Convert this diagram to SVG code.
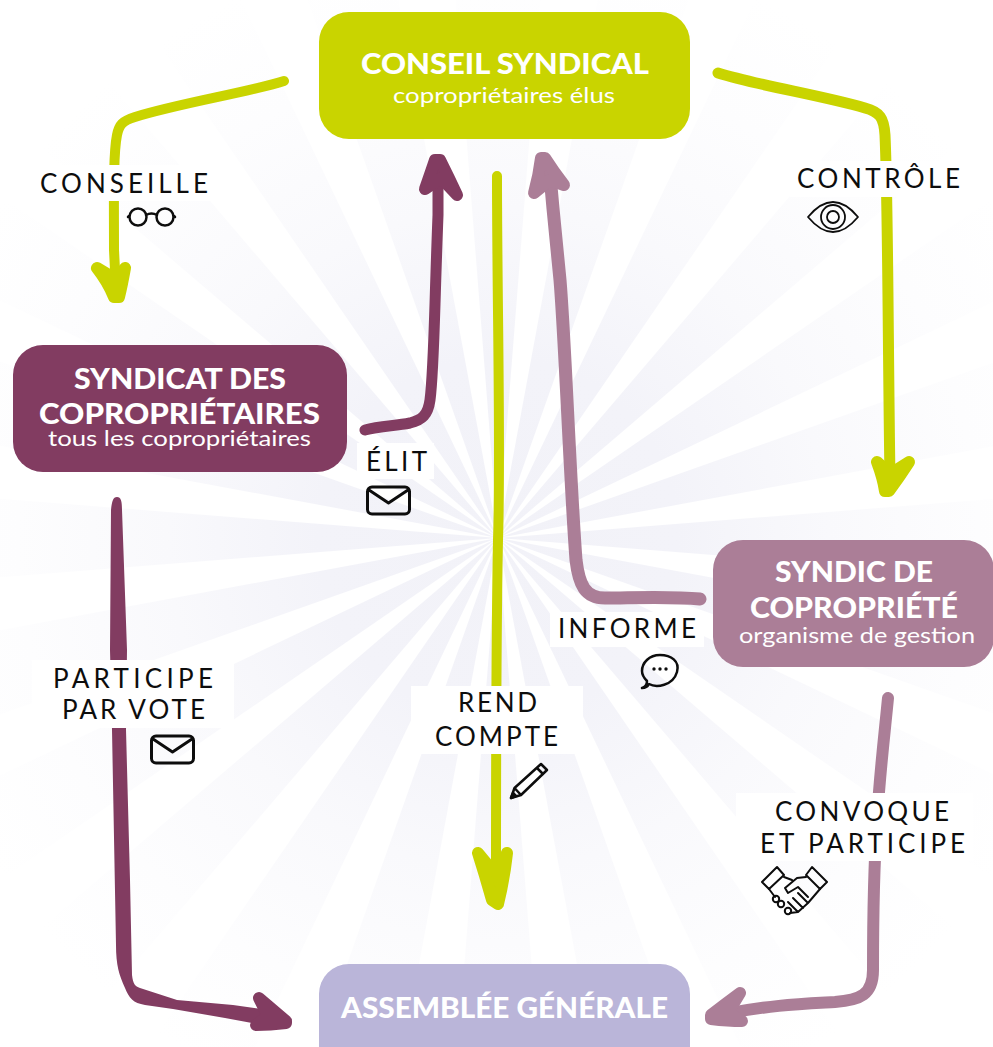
<svg xmlns="http://www.w3.org/2000/svg" xmlns:xlink="http://www.w3.org/1999/xlink" width="993" height="1047" viewBox="0 0 993 1047">
<style>
.ray{fill:url(#fade)}
.patch{fill:#fff}
.lbl{font-family:"Lato","Liberation Sans",sans-serif;font-size:26px;font-weight:400;fill:#0d0d0d}
.ttl{font-family:"Lato","Liberation Sans",sans-serif;font-size:29px;font-weight:900;fill:#fff}
.sub{font-family:"Lato","Liberation Sans",sans-serif;font-size:22px;font-weight:400;fill:#fff}
.lime{stroke:#c9d400;fill:none;stroke-linecap:round;stroke-linejoin:round}
.plum{stroke:#823c61;fill:none;stroke-linecap:round;stroke-linejoin:round}
.mauve{stroke:#ab7e97;fill:none;stroke-linecap:round;stroke-linejoin:round}
.limeh{fill:#c9d400;stroke:#c9d400;stroke-width:12;stroke-linejoin:round}
.plumh{fill:#823c61;stroke:#823c61;stroke-width:12;stroke-linejoin:round}
.mauveh{fill:#ab7e97;stroke:#ab7e97;stroke-width:12;stroke-linejoin:round}
.ico{fill:none;stroke:#0d0d0d;stroke-linecap:round;stroke-linejoin:round}
</style>
<defs>
<radialGradient id="fade" gradientUnits="userSpaceOnUse" cx="0" cy="0" r="600">
<stop offset="0" stop-color="#f2f2f8"/>
<stop offset="0.3" stop-color="#f3f3f9"/>
<stop offset="0.55" stop-color="#f9f9fc"/>
<stop offset="0.8" stop-color="#fdfdfe"/>
<stop offset="1" stop-color="#ffffff"/>
</radialGradient>
<polygon id="ray" class="ray" points="0,0 800,-63 800,63"/>
</defs>
<rect width="993" height="1047" fill="#fff"/>
<g id="sunburst" transform="translate(498 538)">
<use href="#ray"/><use href="#ray" transform="rotate(15)"/><use href="#ray" transform="rotate(30)"/><use href="#ray" transform="rotate(45)"/>
<use href="#ray" transform="rotate(60)"/><use href="#ray" transform="rotate(75)"/><use href="#ray" transform="rotate(90)"/><use href="#ray" transform="rotate(105)"/>
<use href="#ray" transform="rotate(120)"/><use href="#ray" transform="rotate(135)"/><use href="#ray" transform="rotate(150)"/><use href="#ray" transform="rotate(165)"/>
<use href="#ray" transform="rotate(180)"/><use href="#ray" transform="rotate(195)"/><use href="#ray" transform="rotate(210)"/><use href="#ray" transform="rotate(225)"/>
<use href="#ray" transform="rotate(240)"/><use href="#ray" transform="rotate(255)"/><use href="#ray" transform="rotate(270)"/><use href="#ray" transform="rotate(285)"/>
<use href="#ray" transform="rotate(300)"/><use href="#ray" transform="rotate(315)"/><use href="#ray" transform="rotate(330)"/><use href="#ray" transform="rotate(345)"/>
</g>
<g id="connectors">
<path class="lime" stroke-width="10" d="M284 81C250 92 180 103 135 117C122 121 119 125 117 135C113 155 114 200 114 250L116 290"/>
<path class="limeh" d="M97 268Q108 282 114 297L119 297Q122 285 125 268L117 280Z"/>
<path class="lime" stroke-width="11" d="M718 73C760 86 820 95 865 108C880 112 884 118 885 135C888 200 888 350 890 480"/>
<path class="limeh" d="M877 462Q883 478 885 491L889 491Q900 476 909 462L890 474Z"/>
<path class="plum" stroke-width="11" d="M365 430C380 426 395 426 410 423C422 420 428 415 430 400C434 370 434 320 438 215L438 175"/>
<path class="plumh" d="M425 189Q431 172 435 160L440 160Q449 178 457 195L441 178Z"/>
<path class="mauve" stroke-width="13" d="M700 599C670 596 630 598 605 598C585 598 579 585 576 560C570 480 565 340 560 280C556 240 553 210 550 175"/>
<path class="mauveh" d="M534 193Q539 175 541 158L545 158Q554 172 564 185L550 180Z"/>
<path class="lime" stroke-width="10" d="M497 176C497 300 501 450 498 540C496 640 496 760 496 880"/>
<path class="limeh" d="M478 853Q485 875 492 900L498 904Q504 880 507 853L500 870H492Z"/>
<path fill="#823c61" d="M117 497C121 497 122 501 122 510L127 650L126 730L130 880L132 975C133 984 135 986 140 988L177 1000L233 1005L262 1009L262 1025L225 1018L173 1009L145 1005C133 1003 129 998 125 988C119 975 116 965 116 945L112 730L110 650L111 510C112 501 113 497 117 497Z"/>
<path class="plumh" d="M259 998Q272 1009 286 1021L286 1023Q270 1025 256 1025L268 1016Z"/>
<path class="mauve" stroke-width="12" d="M888 698C885 730 880 770 877 820C873 880 873 930 873 970C873 995 860 1000 835 1002C800 1004 770 1005 725 1014"/>
<path class="mauveh" d="M740 993Q725 1004 711 1015L711 1019Q728 1021 742 1021L728 1013Z"/>
</g>
<g id="label-conseille">
<rect class="patch" x="33" y="165" width="177" height="36"/>
<text class="lbl" x="40" y="193" textLength="168">CONSEILLE</text>
<g class="ico" stroke-width="2.500"><circle cx="138" cy="217" r="8.500"/><circle cx="165" cy="217" r="8.500"/><path d="M146 215Q151.500 212 157 215M129 216L128 217M174 216L175 217"/></g>
</g>
<g id="label-controle">
<rect class="patch" x="790" y="161" width="177" height="36"/>
<text class="lbl" x="797" y="188" textLength="163">CONTRÔLE</text>
<g class="ico" stroke-width="1.800"><path d="M808 217Q833 187 858 217Q833 247 808 217Z"/><circle cx="833" cy="217" r="12"/><circle cx="833" cy="217" r="6"/></g>
</g>
<g id="label-elit">
<rect class="patch" x="357" y="443" width="77" height="36"/>
<text class="lbl" x="366" y="471" textLength="61">ÉLIT</text>
<g class="ico" stroke-width="3"><rect x="367.500" y="487" width="42" height="27" rx="4.500"/><path d="M369 490L388.500 503L408 490"/></g>
</g>
<g id="label-informe">
<rect class="patch" x="550" y="612" width="154" height="35"/>
<text class="lbl" x="558" y="638" textLength="138">INFORME</text>
<g class="ico" stroke-width="2.500"><path d="M649 684C656 688 673 686 677 672C680 661 671 655 660 655C649 655 642 663 642 671C642 675 644 678 647 681C647 684 645 687 642 688C645 688 648 686 649 684Z"/></g>
<g fill="#0d0d0d"><circle cx="654" cy="669" r="1.700"/><circle cx="660" cy="669" r="1.700"/><circle cx="666" cy="669" r="1.700"/></g>
</g>
<g id="label-rend-compte">
<rect class="patch" x="411" y="686" width="172" height="68"/>
<text class="lbl" x="458" y="712" textLength="79">REND</text>
<text class="lbl" x="435" y="746" textLength="123">COMPTE</text>
<g class="ico" stroke-width="2.500"><path d="M511 798L514.500 788L541 764L547 770L521 795ZM514.500 788L521 795M537 768L543 774"/><path d="M511 798L516 796L513 793Z" fill="#0d0d0d"/></g>
</g>
<g id="label-participe">
<rect class="patch" x="32" y="660" width="202" height="68"/>
<text class="lbl" x="53" y="688" textLength="160">PARTICIPE</text>
<text class="lbl" x="62" y="719" textLength="143">PAR VOTE</text>
<g class="ico" stroke-width="3"><rect x="151.500" y="736" width="42" height="27" rx="4.500"/><path d="M153 739L172.500 752L192 739"/></g>
</g>
<g id="label-convoque">
<rect class="patch" x="736" y="793" width="237" height="68"/>
<text class="lbl" x="775" y="821" textLength="174">CONVOQUE</text>
<text class="lbl" x="760" y="853" textLength="205">ET PARTICIPE</text>
<g class="ico" stroke-width="2"><path d="M777 867L762 882L769 889L784 875ZM812 867L827 882L820 889L806 875Z"/>
<path d="M784 877L792 880M806 877L797 878L785 888L788 893L798 887L808 897M820 889L808 903L798 912L790 913M769 889L775 897M798 893L808 903M793 898L803 908M788 902L798 912"/>
<circle cx="776" cy="899" r="3.200"/><circle cx="781" cy="904" r="3.200"/><circle cx="788" cy="911" r="3.200"/></g>
</g>
<g id="node-conseil">
<rect x="319" y="12" width="371" height="127" rx="30" fill="#c9d400"/>
<text class="ttl" x="361" y="74" textLength="288" lengthAdjust="spacingAndGlyphs">CONSEIL SYNDICAL</text>
<text class="sub" x="393" y="103" textLength="222" lengthAdjust="spacingAndGlyphs">copropriétaires élus</text>
</g>
<g id="node-syndicat">
<rect x="13" y="345" width="334" height="127" rx="30" fill="#823c61"/>
<text class="ttl" x="74" y="389" textLength="212" lengthAdjust="spacingAndGlyphs">SYNDICAT DES</text>
<text class="ttl" x="39" y="424" textLength="281" lengthAdjust="spacingAndGlyphs">COPROPRIÉTAIRES</text>
<text class="sub" x="48" y="446" textLength="263" lengthAdjust="spacingAndGlyphs">tous les copropriétaires</text>
</g>
<g id="node-syndic">
<rect x="713" y="540" width="281" height="127" rx="30" fill="#ab7e97"/>
<text class="ttl" x="775" y="582" textLength="158" lengthAdjust="spacingAndGlyphs">SYNDIC DE</text>
<text class="ttl" x="750" y="618" textLength="208" lengthAdjust="spacingAndGlyphs">COPROPRIÉTÉ</text>
<text class="sub" x="739" y="643" textLength="236" lengthAdjust="spacingAndGlyphs">organisme de gestion</text>
</g>
<g id="node-assemblee">
<rect x="319" y="964" width="371" height="127" rx="30" fill="#bab5d9"/>
<text class="ttl" x="341" y="1018" textLength="327" lengthAdjust="spacingAndGlyphs">ASSEMBLÉE GÉNÉRALE</text>
</g>
</svg>
